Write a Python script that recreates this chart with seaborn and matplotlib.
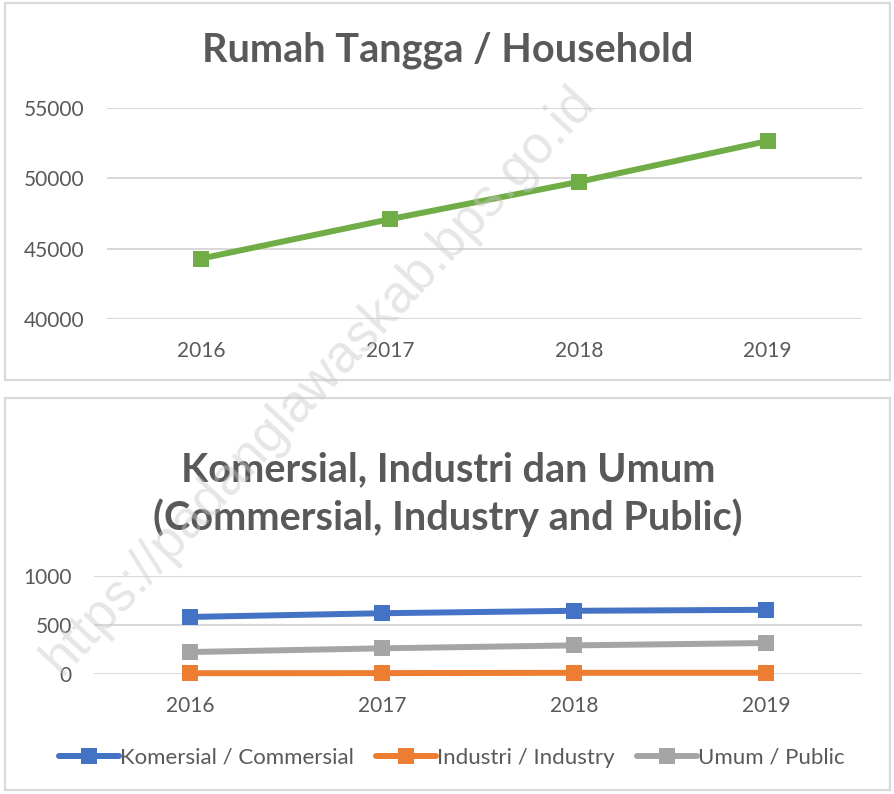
import matplotlib
matplotlib.use("Agg")
import matplotlib.pyplot as plt
import seaborn as sns
import pandas as pd
from matplotlib.patches import Rectangle
from matplotlib.lines import Line2D

# data
years = ['2016', '2017', '2018', '2019']
household = [44300, 47100, 49750, 52650]
commercial = [582, 620, 645, 655]
industry = [8, 9, 12, 12]
public = [224, 262, 292, 316]
series_names = ['Komersial / Commersial', 'Industri / Industry', 'Umum / Public']

title_top = 'Rumah Tangga / Household'
title_bottom = 'Komersial, Industri dan Umum\n(Commersial, Industry and Public)'
watermark = 'https://padanglawaskab.bps.go.id'

green = '#70AD47'
colors = ['#4472C4', '#ED7D31', '#A5A5A5']
text_gray = '#595959'
grid_gray = '#D9D9D9'

sns.set_theme(style='white')
plt.rcParams['font.family'] = ['Lato', 'DejaVu Sans']

W, H = 894, 794
fig = plt.figure(figsize=(W / 100, H / 100), dpi=100)

# panel borders
for (x0, y0, x1, y1) in [(5, 3, 890, 380), (5, 398, 890, 790)]:
    fig.patches.append(Rectangle((x0 / W, 1 - y1 / H), (x1 - x0) / W, (y1 - y0) / H,
                                 transform=fig.transFigure, fill=False,
                                 edgecolor=grid_gray, linewidth=1.6, zorder=0))

# 1. Rumah tangga
ax1 = fig.add_axes([107 / W, 1 - 319 / H, 755 / W, 211 / H])
df_top = pd.DataFrame({'year': years, 'value': household})
sns.lineplot(data=df_top, x='year', y='value', ax=ax1, color=green,
             linewidth=4.3, marker='s', markersize=11, markeredgewidth=0, sort=False)
ax1.set_xlim(-0.5, 3.5)
ax1.set_ylim(40000, 55000)
ax1.set_yticks([40000, 45000, 50000, 55000])

# 2. Komersial, industri, umum
ax2 = fig.add_axes([94 / W, 1 - 674 / H, 768 / W, 98 / H])
df_bot = pd.DataFrame({
    'year': years * 3,
    'value': commercial + industry + public,
    'series': [s for s in series_names for _ in years],
})
sns.lineplot(data=df_bot, x='year', y='value', hue='series', palette=colors, ax=ax2,
             linewidth=4.3, marker='s', markersize=11, markeredgewidth=0, sort=False,
             legend=False)
ax2.set_xlim(-0.5, 3.5)
ax2.set_ylim(0, 1000)
ax2.set_yticks([0, 500, 1000])

for ax in (ax1, ax2):
    ax.set_xlabel('')
    ax.set_ylabel('')
    for s in ax.spines.values():
        s.set_visible(False)
    ax.grid(axis='y', color=grid_gray, linewidth=1.5)
    ax.grid(axis='x', visible=False)
    ax.set_axisbelow(True)
    ax.tick_params(axis='both', length=0, labelsize=15, labelcolor=text_gray)
    ax.tick_params(axis='y', pad=16)
    ax.tick_params(axis='x', pad=16)
    for t in ax.get_lines():
        t.set_clip_on(False)

fig.text(448 / W, 1 - 50 / H, title_top, ha='center', va='center',
         fontsize=28.5, fontweight='bold', color=text_gray)
fig.text(448 / W, 1 - 494 / H, title_bottom, ha='center', va='center',
         fontsize=28.5, fontweight='bold', color=text_gray, linespacing=1.3)

# legend
handles = [Line2D([0], [0], color=c, linewidth=4.3, marker='s', markersize=11,
                  markeredgewidth=0) for c in colors]
fig.legend(handles, series_names, loc='center', bbox_to_anchor=(452 / W, 1 - 758 / H),
           ncol=3, frameon=False, fontsize=16, labelcolor=text_gray,
           handlelength=2.7, handletextpad=0.05, columnspacing=1.0)

# watermark
fig.text(318 / W, 1 - 380 / H, watermark, ha='center', va='center', rotation=47,
         fontsize=38, color='#C8C8C8', alpha=0.45, zorder=10,
         family=['Liberation Sans', 'DejaVu Sans'])

fig.savefig('out.png', dpi=100)
